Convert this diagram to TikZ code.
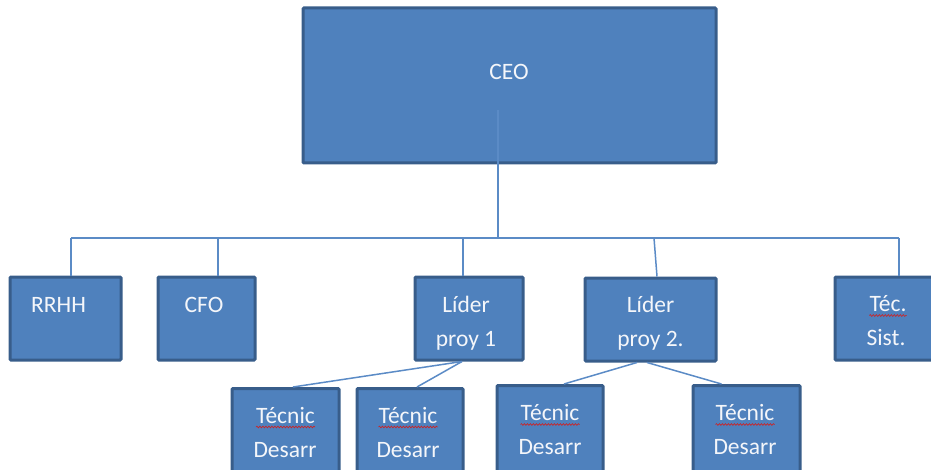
\documentclass[tikz,border=0pt]{standalone}
\usepackage{fontspec}
\setmainfont{Carlito}
\usetikzlibrary{decorations.pathmorphing}
\definecolor{boxfill}{HTML}{4F81BD}
\definecolor{boxline}{HTML}{385D8A}
\definecolor{linkcol}{HTML}{5B8BC6}
\definecolor{spellred}{HTML}{D02020}
\definecolor{lbltext}{HTML}{F4F6FA}
\begin{document}
\begin{tikzpicture}[x=1pt,y=-1pt,
  orgbox/.style={draw=boxline,fill=boxfill,line width=3pt,rounded corners=1pt,
    inner sep=0pt,anchor=center},
  lbl/.style={text=lbltext,inner sep=0pt,anchor=base,
    font=\fontsize{23.5}{28}\selectfont},
  link/.style={draw=linkcol,line width=1.5pt},
  wavy/.style={draw=spellred,line width=0.6pt,
    decorate,decoration={snake,amplitude=0.9pt,segment length=3pt}}]
\useasboundingbox (0,0) rectangle (931,470);
\clip (0,0) rectangle (931,470);

% boxes
\node[orgbox,minimum width=413pt,minimum height=155pt] (ceo) at (509.5,85.5) {};
\node[orgbox,minimum width=111pt,minimum height=83pt] (rrhh) at (65.5,318.5) {};
\node[orgbox,minimum width=97pt,minimum height=83pt] (cfo) at (206.5,318.5) {};
\node[orgbox,minimum width=108pt,minimum height=83pt] (lid1) at (469,318.5) {};
\node[orgbox,minimum width=131pt,minimum height=83pt] (lid2) at (650.5,319.5) {};
\node[orgbox,minimum width=105pt,minimum height=83pt] (tsist) at (887.5,318.5) {};
\node[orgbox,minimum width=107pt,minimum height=101pt] (t1) at (285.5,439) {};
\node[orgbox,minimum width=106pt,minimum height=101pt] (t2) at (410,439) {};
\node[orgbox,minimum width=106pt,minimum height=104.5pt] (t3) at (550,437.75) {};
\node[orgbox,minimum width=107pt,minimum height=104.5pt] (t4) at (746.5,437.75) {};

% bus from the CEO to the first level
\coordinate (stem) at (498,110);
\coordinate (b1) at (71,238);
\coordinate (b2) at (218,238);
\coordinate (b3) at (463,238);
\coordinate (b4) at (654,238);
\coordinate (b5) at (899,238);
\draw[link] (stem) -- (stem |- b1);
\draw[link] (b1) -- (b5);
\draw[link] (b1) -- (b1 |- rrhh.north);
\draw[link] (b2) -- (b2 |- cfo.north);
\draw[link] (b3) -- (b3 |- lid1.north);
\draw[link] (b4) -- ([xshift=6.5pt]lid2.north);
\draw[link] (b5) -- (b5 |- tsist.north);

% project leaders to their developers
\coordinate (f1) at ([xshift=-7pt]lid1.south);
\draw[link] (f1) -- ([xshift=7.5pt]t1.north);
\draw[link] (f1) -- ([xshift=7pt]t2.north);
\draw[link] ([xshift=-13.5pt]lid2.south) -- ([xshift=14pt]t3.north);
\draw[link] ([xshift=-3.5pt]lid2.south) -- ([xshift=-25pt]t4.north);

% labels
\node[lbl] (tceo) at (509,80) {CEO};
\node[lbl] (trrhh) at (58.5,312) {RRHH};
\node[lbl] (tcfo) at (204,312) {CFO};
\node[lbl] (tl1a) at (466,312) {Líder};
\node[lbl] (tl1b) at (466,346) {proy 1};
\node[lbl] (tl2a) at (650.5,312) {Líder};
\node[lbl] (tl2b) at (650.5,346) {proy 2.};
\node[lbl] (tsa) at (888,311.5) {Téc.};
\node[lbl] (tsb) at (886,345) {Sist.};
\node[lbl] (t1a) at (285.5,423) {Técnic};
\node[lbl] (t1b) at (285,457) {Desarr};
\node[lbl] (t2a) at (408,423) {Técnic};
\node[lbl] (t2b) at (408,457) {Desarr};
\node[lbl] (t3a) at (550,420.5) {Técnic};
\node[lbl] (t3b) at (550,454) {Desarr};
\node[lbl] (t4a) at (745,420.5) {Técnic};
\node[lbl] (t4b) at (745,454) {Desarr};

% spell-check underlines
\foreach \w in {tsa,t1a,t2a,t3a,t4a}
  \draw[wavy] ([yshift=-4pt]\w.base west) -- ([yshift=-4pt]\w.base east);
\end{tikzpicture}
\end{document}
